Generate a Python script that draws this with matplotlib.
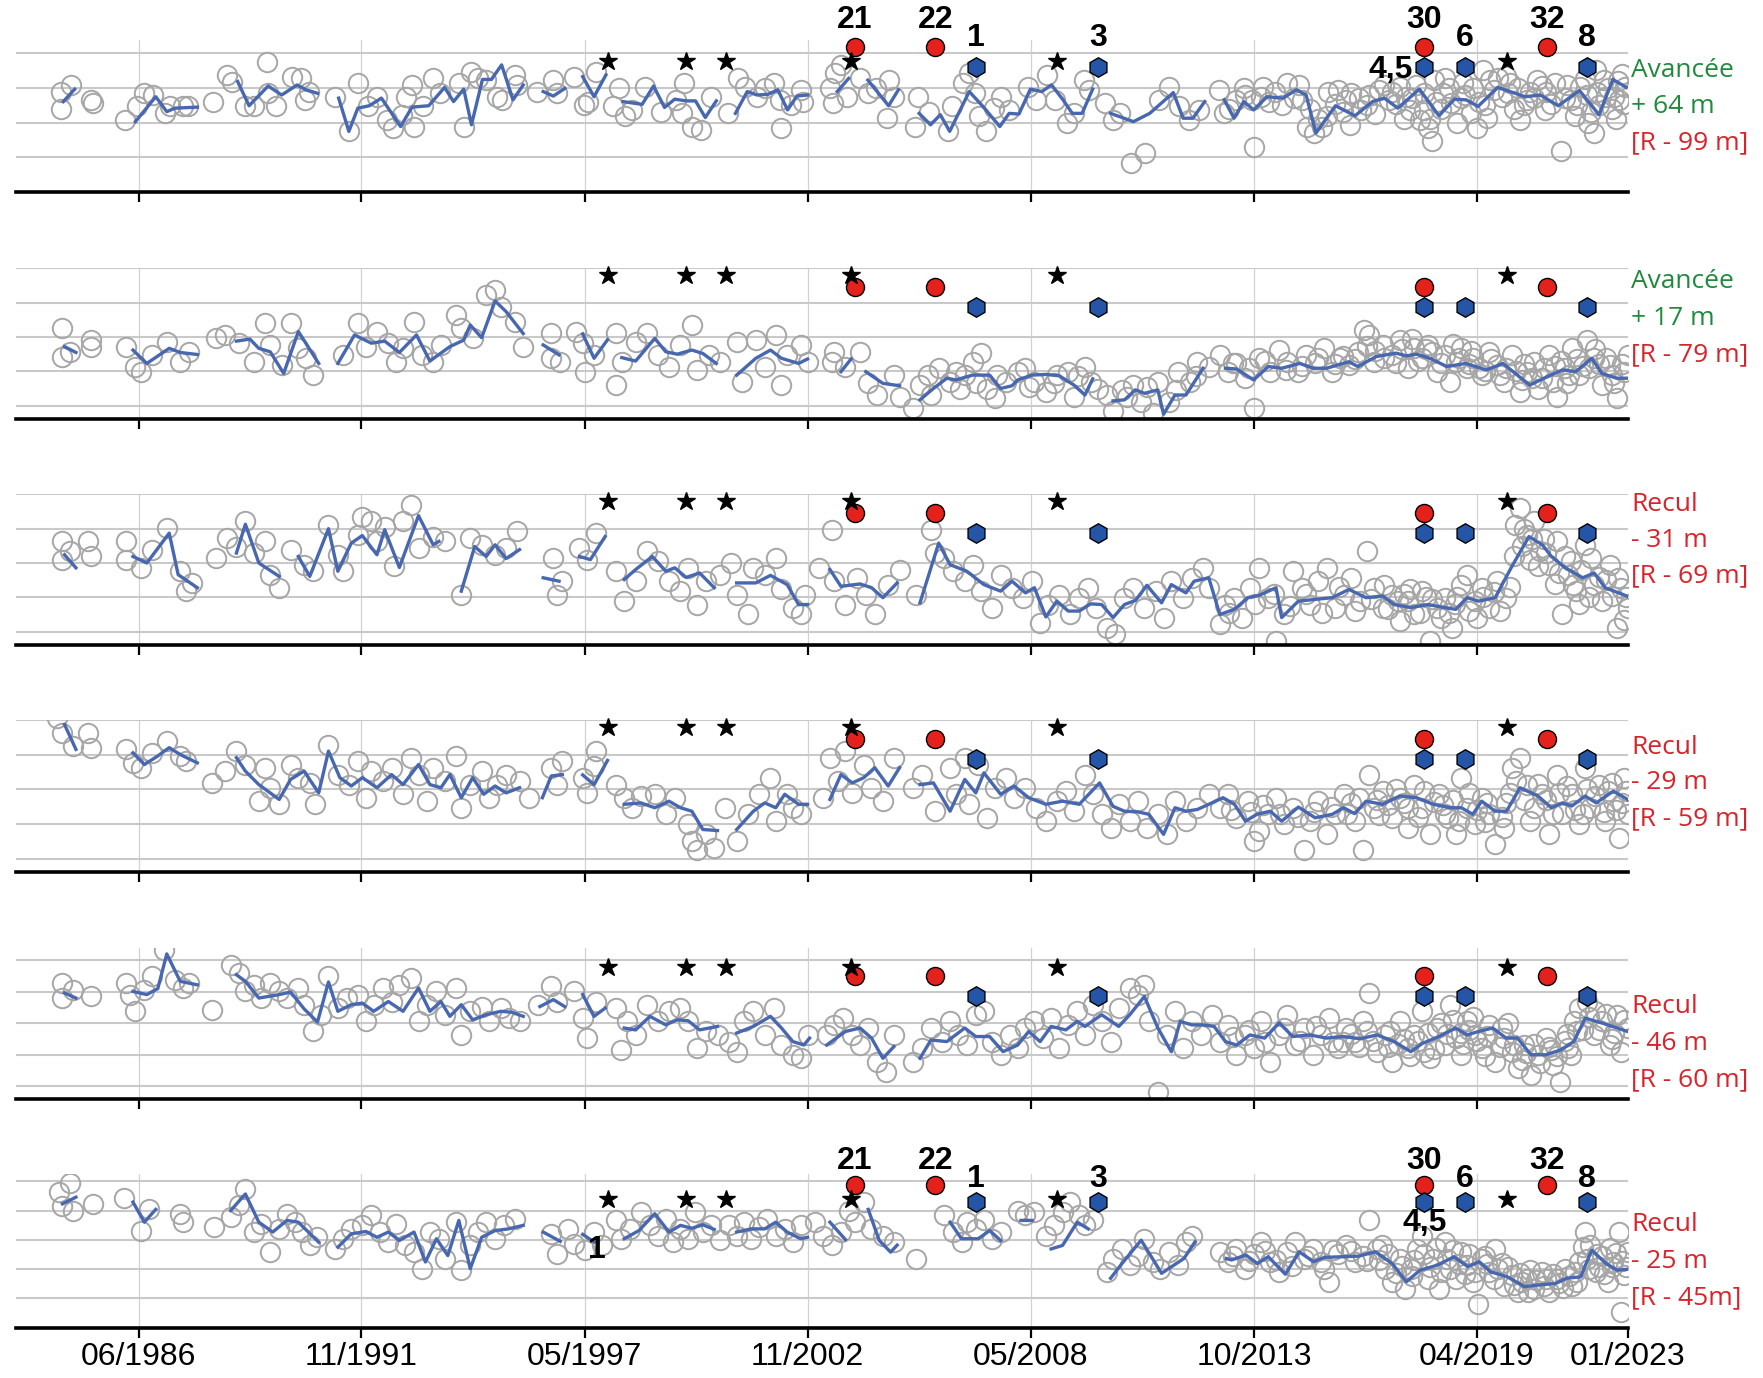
import numpy as np
import matplotlib.pyplot as plt

GAP = (np.nan, np.nan)

tick_years = [1986.44, 1991.91, 1997.39, 2002.86, 2008.34, 2013.82, 2019.29, 2023.0]
tick_labels = ['06/1986', '11/1991', '05/1997', '11/2002', '05/2008', '10/2013', '04/2019', '01/2023']

star_years = [1997.97, 1999.88, 2000.87, 2003.93, 2008.98, 2020.04]
red_years = [2004.02, 2006.00, 2018.00, 2021.01]
red_names = ['21', '22', '30', '32']
hex_years = [2007.00, 2010.00, 2018.00, 2019.00, 2022.00]
hex_names = ['1', '3', '4,5', '6', '8']

side_top = ['Avancée', 'Avancée', 'Recul', 'Recul', 'Recul', 'Recul']
side_mid = ['+ 64 m', '+ 17 m', '- 31 m', '- 29 m', '- 46 m', '- 25 m']
side_bot = ['[R - 99 m]', '[R - 79 m]', '[R - 69 m]', '[R - 59 m]', '[R - 60 m]', '[R - 45m]']

# mean shoreline position (m), gaps where no data
line1 = [
    (1984.59, 26.1), (1984.87, 29.7), GAP,
    (1986.36, 20.3), (1986.86, 27.5), (1987.13, 23.2), (1987.33, 24.2), (1987.88, 24.5), GAP,
    (1988.87, 31.9), (1989.15, 24.9), (1989.62, 30.6), (1989.95, 28), (1990.33, 30.9), (1990.55, 29.5), (1990.83, 28.5), GAP,
    (1991.35, 27.1), (1991.60, 17.5), (1991.82, 24.2), (1992.10, 24.9), (1992.40, 27.1), (1992.87, 18.9), (1993.15, 24.5),
    (1993.56, 24.9), (1993.95, 30.2), (1994.17, 26.1), (1994.42, 29.7), (1994.61, 19.4), (1994.88, 32.5), (1995.10, 32.5),
    (1995.35, 36.7), (1995.63, 26.6), (1995.88, 30.9), GAP,
    (1996.37, 29), (1996.62, 27.7), (1996.90, 29.9), GAP,
    (1997.34, 33.3), (1997.62, 27.5), (1997.91, 33.8), GAP,
    (1998.33, 26.1), (1998.80, 25.3), (1999.08, 30.6), (1999.35, 24.4), (1999.60, 26.8), (1999.88, 26.3), (2000.11, 26.3),
    (2000.35, 21.5), (2000.62, 26.3), GAP,
    (2001.09, 22.7), (2001.38, 29), (2001.62, 28), (2001.89, 28.2), (2002.13, 29.5), (2002.37, 23.7), (2002.60, 27.7), (2002.86, 28), GAP,
    (2003.59, 29), (2003.87, 32.8), GAP,
    (2004.34, 32.3), (2004.85, 24.9), (2005.09, 29.5), GAP,
    (2005.60, 22.7), (2005.88, 19.4), (2006.12, 22.3), (2006.35, 17.5), (2006.83, 29), (2007.15, 24.9), (2007.58, 18.9),
    (2007.81, 22.7), (2008.05, 22.5), (2008.33, 29.7), (2008.61, 29), (2008.85, 30.9), (2009.12, 26.8), (2009.36, 22.7),
    (2009.60, 22.7), (2009.86, 29.7), GAP,
    (2010.30, 22.7), (2010.86, 20.3), (2011.26, 22.7), (2011.84, 28.7), (2012.08, 21.3), (2012.32, 21.3), (2012.61, 26.1), GAP,
    (2013.09, 26.6), (2013.33, 21.3), (2013.57, 26.1), (2013.81, 23.7), (2014.14, 27.5), (2014.53, 27.1), (2014.86, 29.5),
    (2015.10, 28), (2015.34, 17), (2015.82, 24.9), (2016.30, 22), (2016.73, 26.1), (2017.02, 27.1), (2017.35, 24.2),
    (2017.88, 29.7), (2018.36, 22), (2018.74, 26.8), (2019.03, 26.6), (2019.32, 24.7), (2019.80, 30.2), (2020.23, 28.5),
    (2020.47, 27.5), (2020.85, 28), (2021.29, 24.9), (2021.81, 29.3), (2022.29, 22.3), (2022.63, 32.5), (2022.96, 30.2),
]

pts1 = [
    (1984.54, 29), (1984.54, 23.9), (1984.79, 30.9), (1985.26, 26.6), (1985.31, 25.6),
    (1986.11, 20.8), (1986.39, 24.7), (1986.58, 28.5), (1986.80, 28), (1987.08, 22.7), (1987.22, 24.7), (1987.52, 24.7),
    (1987.66, 24.7), (1988.26, 26.1),
    (1988.60, 33.8), (1988.73, 31.9), (1989.06, 24.7), (1989.28, 24.7), (1989.59, 37.6), (1989.62, 28.5), (1989.81, 24.7),
    (1990.20, 33.3), (1990.42, 32.8), (1990.53, 26.6), (1990.61, 29),
    (1991.27, 27.4), (1991.60, 17.5), (1991.82, 31.4), (1992.07, 24.7), (1992.29, 27.5), (1992.54, 20.8), (1992.68, 18.4),
    (1992.90, 22.3), (1993.01, 27.5), (1993.15, 30.9), (1993.20, 18.9), (1993.42, 24.7), (1993.67, 32.8), (1993.84, 28.5),
    (1994.30, 31.4), (1994.42, 18.9), (1994.61, 34.7), (1994.77, 32.8), (1994.97, 32.3), (1995.24, 27.5), (1995.35, 26.6),
    (1995.68, 33.8), (1995.74, 30.9),
    (1996.21, 29), (1996.62, 32.3), (1996.70, 28.5), (1997.12, 33.1), (1997.37, 25.1), (1997.48, 26.1), (1997.67, 34.7),
    (1998.09, 24.7), (1998.22, 29.9), (1998.37, 21.8), (1998.55, 23.7), (1998.88, 30.4), (1999.27, 23.2), (1999.64, 26.6),
    (1999.78, 22.7), (1999.83, 31.4), (2000.02, 18.9), (2000.25, 17.9), (2000.48, 27.5),
    (2000.91, 22.7), (2001.15, 32.8), (2001.33, 30.4), (2001.62, 27.5), (2001.81, 29.9), (2002.03, 31.4), (2002.18, 26.6),
    (2002.22, 18.4), (2002.46, 25.1), (2002.69, 29.5), (2002.75, 26.1),
    (2003.40, 29.9), (2003.49, 25.6), (2003.54, 34.3), (2003.68, 36.7), (2003.82, 27.5), (2004.15, 32.8), (2004.34, 28.5),
    (2004.53, 29.9), (2004.81, 21.3), (2004.85, 32.3), (2004.99, 27.5),
    (2005.51, 18.9), (2005.56, 27.5), (2005.84, 23.2), (2006.30, 17.5), (2006.40, 24.7), (2006.68, 31.4), (2006.83, 34.3),
    (2006.97, 28.5), (2007.06, 21.8), (2007.25, 17.5), (2007.44, 24.2), (2007.62, 27.5), (2007.81, 23.7), (2008.28, 30.4),
    (2008.47, 26.6), (2008.75, 33.8), (2008.94, 26.6), (2009.22, 19.9), (2009.41, 22.7), (2009.64, 32.3), (2009.78, 29.5),
    (2010.16, 25.6), (2010.35, 20.8), (2010.53, 22.7), (2010.81, 8.3), (2011.14, 11.2), (2011.50, 26.6), (2011.74, 30.4),
    (2011.99, 24.7), (2012.23, 20.8), (2012.47, 23.7),
    (2012.95, 29.5), (2013.09, 22.7), (2013.38, 26.6), (2013.57, 29.9), (2013.77, 26.6), (2013.81, 13.1), (2014.05, 30.4),
    (2014.20, 26), (2014.34, 29), (2014.63, 31.4), (2014.80, 27), (2014.92, 30.9), (2015.11, 18.9), (2015.20, 24),
    (2015.30, 17), (2015.49, 18.9), (2015.60, 22), (2015.64, 29), (2015.88, 29.5), (2016.07, 26.6), (2016.17, 19.4),
    (2016.20, 28.5), (2016.45, 23.7), (2016.60, 25), (2016.65, 28), (2016.89, 29.5), (2017.13, 26.6), (2017.20, 29),
    (2017.41, 30.4), (2017.50, 21), (2017.56, 27.5), (2017.65, 23.7), (2017.80, 31), (2017.89, 20.8), (2017.99, 23.7),
    (2018.09, 18.4), (2018.18, 14.6), (2018.23, 32.3), (2018.30, 26), (2018.47, 28.5), (2018.50, 33), (2018.66, 25.6),
    (2018.80, 20), (2018.95, 31.4), (2019.00, 28), (2019.14, 22.7), (2019.29, 18.4), (2019.43, 35.2), (2019.50, 25),
    (2019.62, 32.3), (2019.70, 29.5), (2019.91, 27.5), (2020.00, 33.5), (2020.10, 31.4), (2020.20, 24), (2020.34, 20.8),
    (2020.53, 26.6), (2020.60, 29), (2020.77, 32.3), (2020.90, 30.5), (2020.97, 23.7), (2021.10, 25.5), (2021.35, 11.7),
    (2021.50, 31), (2021.59, 26.6), (2021.70, 22), (2021.83, 30.4), (2022.00, 28), (2022.02, 19.9), (2022.17, 17),
    (2022.21, 35.2), (2022.30, 25), (2022.41, 32.3), (2022.50, 30), (2022.65, 27.5), (2022.70, 21), (2022.79, 26.6),
    (2022.85, 34), (2022.93, 30.4),
    (2013.20, 24), (2013.60, 28), (2014.00, 27.5), (2014.50, 25), (2015.00, 26.5), (2015.40, 21), (2015.80, 25.5),
    (2016.00, 23), (2016.40, 27), (2016.80, 22.5), (2017.00, 31), (2017.30, 25.5), (2017.70, 27), (2018.00, 28.5),
    (2018.15, 21), (2018.40, 24), (2018.60, 30), (2018.90, 27), (2019.20, 30), (2019.35, 26), (2019.55, 21.5),
    (2019.80, 33), (2020.05, 28.5), (2020.30, 30), (2020.45, 25), (2020.70, 27), (2021.00, 29), (2021.20, 31.5),
    (2021.45, 27), (2021.75, 25), (2021.95, 32.5), (2022.10, 23), (2022.25, 29), (2022.45, 27.5), (2022.60, 24),
    (2022.75, 32), (2022.90, 25.5),
]

line2 = [
    (1984.62, 17.2), (1984.90, 15.5), GAP,
    (1986.30, 16.2), (1986.64, 12.3), (1987.19, 16.7), (1987.46, 15.5), (1987.88, 14.9), GAP,
    (1988.84, 18.8), (1989.17, 19.4), (1989.39, 16.7), (1989.67, 15.7), (1990.00, 9.4), (1990.36, 21.6), (1990.86, 12.3), GAP,
    (1991.33, 12.3), (1991.74, 20.6), (1992.15, 18.2), (1992.48, 18.8), (1992.84, 15.5), (1993.26, 20.6), (1993.59, 13),
    (1994.08, 17.2), (1994.42, 19.1), (1994.58, 23.5), (1994.86, 19.8), (1995.19, 30.5), (1995.46, 27.4), (1995.88, 21), GAP,
    (1996.37, 17.7), (1996.76, 14.8), GAP,
    (1997.34, 20.9), (1997.62, 13.8), (1997.95, 19.2), GAP,
    (1998.30, 14), (1998.64, 13), (1999.11, 19.6), (1999.38, 15.7), (1999.66, 15), (2000.02, 16.2), (2000.29, 15.2), (2000.62, 12.3), GAP,
    (2001.12, 8.9), (2001.59, 13.8), (2001.95, 16.2), (2002.22, 13.8), (2002.64, 12.3), (2002.86, 13.6), GAP,
    (2003.68, 9.9), (2003.93, 13.6), GAP,
    (2004.29, 9.9), (2004.71, 6.5), (2005.12, 5.8), GAP,
    (2005.62, 1.7), (2005.95, 5), (2006.28, 8), (2006.50, 7.5), (2006.91, 8.9), (2007.33, 8.9), (2007.60, 5), (2007.88, 5.8),
    (2008.02, 7.5), (2008.37, 8.9), (2008.71, 9.1), (2009.04, 8.7), (2009.40, 6), (2009.67, 3.1), (2009.86, 7.8), GAP,
    (2010.36, 1.4), (2010.64, 1.7), (2010.91, 4.6), (2011.13, 3.6), (2011.46, 4.6), (2011.60, -2.5), (2011.88, 3.1),
    (2012.15, 3.1), (2012.57, 10.9), GAP,
    (2013.12, 10.9), (2013.39, 10.7), (2013.81, 7.5), (2014.17, 11.4), (2014.50, 10.9), (2014.94, 12.3), (2015.27, 10.9),
    (2015.60, 10.9), (2016.15, 12.8), (2016.37, 11.4), (2016.82, 14.3), (2017.31, 15.3), (2017.56, 14.5), (2017.81, 15),
    (2018.14, 13.8), (2018.55, 11.4), (2019.02, 12.3), (2019.52, 10.4), (2019.93, 12.3), (2020.59, 6), (2021.01, 8.4),
    (2021.39, 10.4), (2021.72, 9.9), (2022.11, 13.8), (2022.36, 9.4), (2022.72, 8), (2022.99, 8),
]

pts2 = [
    (1984.57, 22.5), (1984.57, 14.3), (1984.76, 15.7), (1985.26, 19.1), (1985.26, 17.2),
    (1986.14, 17.2), (1986.36, 11.4), (1986.50, 9.9), (1986.77, 14.8), (1987.13, 18.6), (1987.46, 12.8), (1987.68, 15.7),
    (1988.35, 19.6), (1988.57, 20.6), (1988.90, 18.2), (1989.26, 12.8), (1989.53, 24), (1989.67, 17.7), (1989.95, 11.8),
    (1990.17, 24), (1990.36, 16.7), (1990.55, 13.8), (1990.72, 8.9),
    (1991.46, 14.8), (1991.82, 24), (1992.02, 17.2), (1992.29, 21.6), (1992.57, 18.2), (1992.76, 12.8), (1992.93, 16.7),
    (1993.20, 24.5), (1993.39, 14.8), (1993.67, 12.8), (1993.86, 17.7), (1994.22, 26.4), (1994.36, 22.5), (1994.64, 19.8),
    (1994.97, 32.2), (1995.19, 33.7), (1995.33, 28.8), (1995.68, 24.5),
    (1995.88, 17.2), (1996.57, 21.1), (1996.57, 13.8), (1996.79, 12.8), (1997.17, 21.6), (1997.34, 18.2), (1997.39, 9.9),
    (1997.62, 14.8), (1998.17, 21.1), (1998.17, 6), (1998.30, 12.8), (1998.64, 18.6), (1998.91, 21.1), (1999.19, 14.8),
    (1999.46, 11.4), (1999.74, 17.7), (2000.02, 23.5), (2000.15, 10.4), (2000.43, 14.8), (2000.70, 12.8),
    (2001.12, 18.6), (2001.26, 7), (2001.59, 19.1), (2001.81, 11.4), (2002.08, 20.6), (2002.22, 6), (2002.36, 14.8),
    (2002.69, 17.7), (2002.86, 12.8),
    (2003.46, 12.8), (2003.52, 15.7), (2003.79, 11.4), (2004.15, 15.7), (2004.35, 6.5), (2004.57, 3.1), (2004.98, 8.9),
    (2005.12, 2.6), (2005.45, -0.8), (2005.62, 6), (2005.81, 8.9), (2006.08, 10.9), (2006.36, 7), (2006.50, 9.9),
    (2006.72, 8.9), (2006.91, 12.8), (2007.11, 15.2), (2007.27, 5), (2007.46, 2.1), (2007.74, 7), (2008.02, 9.9),
    (2008.21, 10.9), (2008.43, 7), (2008.71, 4.1), (2008.98, 8.9), (2009.26, 9.9), (2009.40, 2.6), (2009.67, 11.4),
    (2009.81, 7),
    (2010.22, 3.1), (2010.36, -1.7), (2010.58, 4.6), (2010.86, 6), (2011.05, 1.2), (2011.33, -2.2), (2011.46, 7),
    (2011.74, 1.2), (2011.96, 9.9), (2012.24, 7), (2012.43, 12.8), (2012.71, 11.4),
    (2012.98, 14.8), (2013.17, 9.9), (2013.39, 12.3), (2013.61, 8), (2013.81, -0.8), (2013.95, 13.8), (2014.22, 9.9),
    (2014.44, 16.2), (2014.64, 12.8), (2014.91, 9.9), (2015.10, 14.8), (2015.32, 12.3), (2015.54, 16.7), (2015.74, 9.9),
    (2015.93, 13.8), (2016.00, 14.5), (2016.15, 11.8), (2016.37, 15.7), (2016.51, 22), (2016.65, 20.6), (2016.76, 12.8),
    (2016.80, 16), (2016.98, 17.7), (2017.20, 14.8), (2017.30, 12.5), (2017.40, 19.1), (2017.59, 10.9), (2017.70, 19.5),
    (2017.76, 16.7), (2017.95, 13.8), (2018.09, 17.7), (2018.20, 15.5), (2018.31, 9.9), (2018.50, 14.8), (2018.64, 7),
    (2018.70, 18), (2018.77, 12.8), (2018.91, 16.7), (2019.05, 10.9), (2019.10, 12), (2019.19, 13.8), (2019.41, 8.9),
    (2019.50, 10), (2019.60, 15.7), (2019.79, 11.8), (2019.96, 7), (2020.00, 11), (2020.15, 14.8), (2020.35, 4.1),
    (2020.40, 7.5), (2020.51, 9.9), (2020.70, 12.8), (2020.80, 5), (2020.90, 8), (2021.06, 14.8), (2021.20, 11.5),
    (2021.26, 2.6), (2021.45, 10.9), (2021.50, 6.5), (2021.62, 16.7), (2021.81, 8.9), (2021.90, 11.5), (2022.00, 19.1),
    (2022.17, 13.8), (2022.20, 16.5), (2022.36, 6), (2022.55, 11.8), (2022.60, 9), (2022.72, 2.1), (2022.91, 9.9),
    (2022.99, 14.8),
    (2005.90, 3), (2006.60, 5), (2007.00, 6.5), (2007.50, 9), (2008.30, 5.5), (2008.90, 6.5), (2009.50, 8.5),
    (2010.00, 5), (2010.70, 2.5), (2011.20, 5.5), (2011.90, 4.5), (2012.40, 8.5),
    (2013.30, 12.5), (2013.70, 11), (2014.10, 13), (2014.60, 10.5), (2015.00, 11.5), (2015.40, 14), (2015.80, 12),
    (2016.30, 13.5), (2016.60, 17.5), (2017.00, 14), (2017.45, 16.5), (2017.85, 13), (2018.05, 16.5), (2018.40, 12.5),
    (2018.85, 14), (2019.15, 16), (2019.35, 11), (2019.65, 13.5), (2019.85, 9), (2020.25, 10), (2020.45, 12),
    (2020.65, 8), (2020.95, 11), (2021.15, 7), (2021.35, 13), (2021.55, 9), (2021.75, 13.5), (2022.05, 11),
    (2022.30, 12), (2022.45, 14), (2022.65, 6.5), (2022.85, 12),
]

line3 = [
    (1984.62, 22.4), (1984.90, 18.6), GAP,
    (1986.30, 21.9), (1986.64, 20), (1987.19, 28.7), (1987.41, 16.6), (1987.88, 12.8), GAP,
    (1988.84, 22.9), (1989.06, 31.3), (1989.39, 20), (1989.89, 16.1), GAP,
    (1990.36, 21.9), (1990.64, 16.1), (1991.10, 30), (1991.33, 17.6), (1991.66, 25.8), (1991.93, 28), (1992.29, 22.4),
    (1992.48, 29.7), (1992.84, 18.7), (1993.31, 33.8), (1993.67, 25.3), (1993.81, 26.3), GAP,
    (1994.36, 11.8), (1994.69, 24.8), (1994.97, 21.9), (1995.19, 25.3), (1995.46, 21.3), (1995.79, 23.9), GAP,
    (1996.37, 15.7), (1996.76, 14.7), GAP,
    (1997.26, 21.9), (1997.53, 21), (1997.89, 27.7), GAP,
    (1998.36, 15.2), (1998.64, 18.1), (1999.05, 21.9), (1999.38, 17.6), (1999.60, 18.6), (1999.88, 15.8), (2000.21, 17.1), (2000.57, 12.8), GAP,
    (2001.12, 14.2), (2001.59, 14.2), (2001.95, 16.4), (2002.36, 13.7), (2002.64, 7.9), (2002.86, 7.9), GAP,
    (2003.41, 18.1), (2003.68, 13.2), (2004.15, 13.9), (2004.43, 12.8), (2004.71, 9.9), (2005.06, 14.2), GAP,
    (2005.62, 8.4), (2006.08, 25.8), (2006.36, 19.5), (2006.77, 17.6), (2007.19, 13.7), (2007.60, 11.8), (2007.88, 14.7),
    (2008.21, 11.3), (2008.43, 12.8), (2008.71, 4.3), (2008.98, 8.9), (2009.26, 6), (2009.53, 6), (2009.81, 8.1),
    (2010.08, 7.9), (2010.36, 4.1), (2010.64, 7.9), (2010.91, 9.1), (2011.19, 13.5), (2011.55, 8.4), (2011.79, 13.7),
    (2012.15, 11.3), (2012.35, 14.7), (2012.71, 15.7), (2012.98, 5), (2013.34, 6.5), (2013.67, 9.9), (2013.95, 10.6),
    (2014.36, 12.8), (2014.50, 4.1), (2014.91, 8.9), (2015.32, 9.4), (2015.74, 9.9), (2016.15, 12.3), (2016.57, 9.9),
    (2016.98, 10.4), (2017.26, 7.9), (2017.67, 7), (2018.09, 7.9), (2018.50, 7), (2018.77, 6.5), (2019.05, 9.9),
    (2019.33, 8.9), (2019.74, 9.9), (2020.15, 19), (2020.57, 27.7), (2020.90, 25.3), (2021.12, 21.9), (2021.45, 18.7),
    (2021.89, 15.7), (2022.17, 17.1), (2022.44, 12.8), (2022.99, 10.3),
]

pts3 = [
    (1984.57, 26.3), (1984.57, 21), (1984.76, 23.4), (1985.20, 26.3), (1985.26, 21.9),
    (1986.14, 26.3), (1986.14, 21), (1986.50, 18.6), (1986.77, 23.9), (1987.13, 30.1), (1987.46, 17.6), (1987.60, 11.8),
    (1987.74, 14.2),
    (1988.35, 21.4), (1988.62, 27.2), (1988.84, 24.8), (1989.06, 32.1), (1989.26, 22.9), (1989.53, 26.5), (1989.67, 16.6),
    (1989.89, 12.8), (1990.17, 23.9), (1990.50, 19.5), (1990.72, 17.6), (1991.10, 31.1), (1991.33, 22.4), (1991.46, 17.6),
    (1991.82, 28.2), (1991.93, 33.5), (1992.15, 32.1), (1992.29, 26.3), (1992.48, 30.6), (1992.70, 19), (1992.93, 32.1),
    (1993.12, 36.9), (1993.31, 24.3), (1993.67, 27.7), (1993.95, 26.3),
    (1994.36, 10.8), (1994.58, 27.2), (1994.86, 25.3), (1995.19, 22.4), (1995.46, 24.3), (1995.74, 29.2), (1996.62, 21.4),
    (1996.70, 10.8), (1996.84, 14.7),
    (1997.26, 24.3), (1997.45, 21), (1997.67, 28.7), (1998.17, 17.6), (1998.36, 8.9), (1998.64, 14.7), (1998.91, 23.4),
    (1999.19, 20.5), (1999.46, 14.7), (1999.74, 11.8), (1999.93, 18.6), (2000.15, 7.9), (2000.37, 14.7), (2000.70, 16.6),
    (2000.98, 20), (2001.12, 10.8), (2001.39, 5), (2001.53, 18.6), (2001.81, 16.6), (2002.08, 21.4), (2002.22, 12.3),
    (2002.50, 7), (2002.69, 5), (2002.80, 10.8),
    (2003.13, 18.6), (2003.46, 29.7), (2003.52, 14.7), (2003.79, 7.9), (2004.07, 15.7), (2004.29, 10.8), (2004.51, 5),
    (2004.84, 13.7), (2005.12, 18.1),
    (2005.53, 10.8), (2005.89, 29.7), (2006.00, 22.9), (2006.22, 21.4), (2006.44, 17.6), (2006.72, 14.7), (2006.91, 19.5),
    (2007.11, 11.8), (2007.38, 7), (2007.60, 16.6), (2007.88, 12.8), (2008.15, 9.9), (2008.37, 14.7), (2008.57, 2.6),
    (2008.76, 7.9), (2009.04, 10.8), (2009.31, 5), (2009.53, 9.9), (2009.75, 12.8), (2009.95, 7), (2010.22, 1.2),
    (2010.41, -0.8), (2010.64, 9.9), (2010.86, 12.8), (2011.13, 7), (2011.41, 11.8), (2011.60, 4.1), (2011.79, 14.7),
    (2012.07, 9.9), (2012.29, 15.7), (2012.57, 18.6), (2012.71, 12.8),
    (2012.98, 2.1), (2013.12, 7.9), (2013.34, 9.9), (2013.53, 4.1), (2013.73, 12.8), (2013.95, 18.6), (2014.17, 9.9),
    (2014.36, -2.7), (2014.55, 5), (2014.77, 17.6), (2014.99, 12.8), (2015.19, 7.9), (2015.38, 14.7), (2015.60, 18.6),
    (2015.82, 7), (2016.02, 10.8), (2016.21, 15.7), (2016.43, 8.9), (2016.59, 23.4), (2016.76, 12.8), (2016.98, 7),
    (2017.00, 13.5), (2017.20, 10.8), (2017.40, 3.1), (2017.50, 11), (2017.59, 8.9), (2017.76, 5), (2017.90, 5.5),
    (2017.95, 11.8), (2018.14, -2.7), (2018.20, 9.5), (2018.31, 7), (2018.50, 9.9), (2018.60, 5.5), (2018.69, 1.2),
    (2018.80, 10), (2018.91, 13.7), (2019.05, 16.6), (2019.24, 8.9), (2019.30, 4), (2019.41, 12.8), (2019.60, 7),
    (2019.70, 11.5), (2019.79, 14.7), (2020.01, 9.9), (2020.23, 31.1), (2020.34, 35.9), (2020.40, 25), (2020.51, 28.2),
    (2020.60, 21), (2020.70, 32.1), (2020.84, 23.4), (2020.95, 27), (2021.06, 19.5), (2021.20, 14), (2021.26, 26.3),
    (2021.39, 5), (2021.53, 16.6), (2021.60, 20.5), (2021.73, 11.8), (2021.80, 8), (2021.95, 25.3), (2022.10, 21.5),
    (2022.17, 13.7), (2022.36, 8.9), (2022.45, 15), (2022.55, 19.5), (2022.72, 1.2), (2022.83, 12.8), (2022.90, 3.5),
    (2022.99, 7),
    (2013.20, 5.5), (2013.85, 8), (2014.30, 11), (2014.70, 7.5), (2015.10, 11), (2015.50, 5.5), (2015.90, 13),
    (2016.30, 6), (2016.70, 9.5), (2017.10, 6.5), (2017.35, 9), (2017.65, 12.5), (2018.05, 10), (2018.40, 4),
    (2018.75, 8), (2019.10, 6), (2019.45, 10), (2019.85, 6), (2020.10, 13), (2020.20, 22), (2020.45, 30),
    (2020.65, 27), (2020.80, 19), (2021.00, 23), (2021.30, 17), (2021.45, 22), (2021.65, 13.5), (2021.85, 18),
    (2022.05, 10), (2022.30, 16), (2022.60, 10.5), (2022.75, 15.5), (2022.95, 10),
]

line4 = [
    (1984.62, 38.8), (1984.90, 31.6), GAP,
    (1986.30, 30.6), (1986.58, 27.2), (1986.91, 29.7), (1987.19, 32.1), (1987.46, 30.1), (1987.88, 27.7), GAP,
    (1988.84, 29.2), (1989.06, 25.3), (1989.39, 21.4), (1989.89, 17.1), (1990.17, 22.9), (1990.50, 25.3), (1990.86, 19),
    (1991.10, 31.1), (1991.38, 23.4), (1991.66, 21), (1991.93, 23.4), (1992.29, 20.5), (1992.65, 24.3), (1992.93, 21.4),
    (1993.31, 27.2), (1993.59, 21.4), (1993.86, 20.5), (1994.08, 24.3), (1994.36, 17.6), (1994.64, 23.4), (1994.91, 18.6),
    (1995.19, 21), (1995.46, 19), (1995.79, 20.5), GAP,
    (1996.35, 17.6), (1996.57, 23.9), (1996.84, 24.3), GAP,
    (1997.34, 24.2), (1997.62, 21.4), (1997.95, 28.4), GAP,
    (1998.36, 15.7), (1998.77, 16.1), (1999.11, 14.7), (1999.46, 16.6), (1999.74, 14.7), (2000.02, 13.7), (2000.29, 8.4), (2000.65, 8.1), GAP,
    (2001.12, 8.4), (2001.53, 13.7), (2001.81, 16.1), (2002.08, 14.7), (2002.30, 18.6), (2002.64, 15.7), (2002.86, 15.7), GAP,
    (2003.41, 17.1), (2003.68, 24.3), (2003.96, 21.9), (2004.24, 23.4), (2004.51, 26.3), (2004.84, 21), (2005.12, 26.3), GAP,
    (2005.62, 21.4), (2005.95, 21.9), (2006.36, 13.7), (2006.72, 22.9), (2006.99, 19), (2007.19, 24.8), (2007.60, 18.6),
    (2007.93, 21), (2008.29, 17.6), (2008.71, 15.7), (2009.12, 16.6), (2009.53, 15.7), (2010.03, 21.9), (2010.36, 15.1),
    (2010.64, 13.7), (2010.97, 13.5), (2011.24, 12.8), (2011.60, 7), (2011.88, 14.7), (2012.15, 13.7), (2012.43, 14.2),
    (2012.71, 15.7), (2013.06, 17.6), (2013.34, 15.7), (2013.61, 10.8), (2013.89, 12.8), (2014.22, 13.7), (2014.50, 10.8),
    (2014.91, 14.9), (2015.32, 11.8), (2015.74, 12.8), (2016.02, 14.7), (2016.29, 13), (2016.57, 16.6), (2016.98, 15.7),
    (2017.40, 18.1), (2017.81, 17.6), (2018.22, 15.7), (2018.64, 14.7), (2018.91, 14.7), (2019.19, 12.8), (2019.41, 16.6),
    (2019.74, 13.7), (2020.02, 13.7), (2020.35, 20.5), (2020.79, 18.1), (2021.12, 14.7), (2021.39, 16.1), (2021.62, 15.2),
    (2021.95, 18.1), (2022.22, 16.1), (2022.64, 19.5), (2022.99, 17.1),
]

pts4 = [
    (1984.43, 40.8), (1984.57, 36.4), (1984.84, 32.6), (1985.20, 36.4), (1985.26, 32.1),
    (1986.14, 31.6), (1986.30, 27.7), (1986.50, 26.3), (1986.77, 30.6), (1987.13, 34), (1987.46, 29.7), (1987.60, 28.2),
    (1988.24, 21.9), (1988.57, 25.3), (1988.84, 31.1), (1989.06, 27.2), (1989.39, 16.6), (1989.53, 26.3), (1989.67, 20.5),
    (1989.89, 15.7), (1990.17, 27.2), (1990.36, 23.4), (1990.64, 21.9), (1990.77, 15.7), (1991.10, 33), (1991.33, 24.3),
    (1991.60, 21.4), (1991.82, 28.2), (1992.02, 17.6), (1992.15, 25.3), (1992.43, 22.4), (1992.65, 26.3), (1992.93, 18.6),
    (1993.12, 29.2), (1993.31, 24.3), (1993.53, 16.6), (1993.67, 26.3), (1993.95, 22.4), (1994.22, 29.7), (1994.36, 14.7),
    (1994.58, 21.4), (1994.86, 25.3), (1995.05, 17.6), (1995.24, 21.4), (1995.46, 24.3), (1995.79, 22.4), (1996.02, 17.6),
    (1996.57, 26.3), (1996.70, 21.4), (1996.84, 28.2), (1997.34, 23.4), (1997.45, 19), (1997.62, 26.8), (1997.67, 31.1),
    (1998.17, 21.4), (1998.36, 17.6), (1998.55, 14.7), (1998.77, 18.1), (1999.11, 18.6), (1999.38, 12.8), (1999.60, 17.6),
    (1999.93, 9.9), (2000.02, 5), (2000.15, 2.6), (2000.37, 7), (2000.57, 3.1), (2000.84, 14.7), (2001.12, 5),
    (2001.39, 12.8), (2001.67, 18.6), (2001.95, 23.4), (2002.08, 10.8), (2002.36, 18.6), (2002.50, 14.7), (2002.69, 12.8),
    (2003.24, 17.6), (2003.41, 29.2), (2003.60, 22.4), (2003.79, 31.1), (2003.96, 19), (2004.24, 27.2), (2004.43, 20.5),
    (2004.71, 16.6), (2004.98, 29.2),
    (2005.45, 20.5), (2005.67, 24.3), (2006.00, 13.7), (2006.36, 26.3), (2006.50, 18.6), (2006.72, 29.2), (2006.83, 15.7),
    (2007.05, 27.2), (2007.27, 11.8), (2007.46, 20.5), (2007.74, 23.4), (2007.93, 17.6), (2008.21, 20.5), (2008.48, 14.7),
    (2008.71, 10.8), (2008.98, 16.6), (2009.20, 19.5), (2009.40, 13.7), (2009.67, 24.3), (2009.86, 18.6), (2010.08, 12.8),
    (2010.30, 8.9), (2010.50, 15.7), (2010.77, 10.8), (2010.97, 16.6), (2011.19, 8.9), (2011.46, 12.8), (2011.68, 7),
    (2011.88, 16.6), (2012.15, 10.8), (2012.43, 14.7), (2012.71, 18.6), (2012.98, 14.7), (2013.17, 18.6), (2013.39, 11.8),
    (2013.67, 16.6), (2013.81, 5), (2013.95, 7.9), (2014.17, 12.8), (2014.36, 17.6), (2014.55, 9.9), (2014.77, 14.7),
    (2015.05, 2.6), (2015.19, 10.8), (2015.38, 16.6), (2015.60, 7), (2015.82, 12.8), (2016.02, 18.6), (2016.20, 16),
    (2016.29, 10.8), (2016.49, 2.6), (2016.65, 24.3), (2016.76, 14.7), (2016.90, 12.5), (2016.98, 19.5), (2017.20, 11.8),
    (2017.40, 17.6), (2017.59, 8.9), (2017.60, 14.5), (2017.76, 21.4), (2017.95, 14.7), (2018.00, 19.5), (2018.14, 7),
    (2018.36, 18.6), (2018.45, 15.5), (2018.58, 11.8), (2018.77, 7), (2018.91, 23.4), (2019.05, 14.7), (2019.10, 19),
    (2019.24, 9.9), (2019.41, 17.6), (2019.50, 10.5), (2019.60, 12.8), (2019.74, 4.1), (2019.96, 8.9), (2020.00, 16),
    (2020.15, 26.3), (2020.35, 29.2), (2020.51, 21.4), (2020.60, 11), (2020.70, 14.7), (2020.90, 18.6), (2021.00, 17),
    (2021.06, 7), (2021.26, 24.3), (2021.39, 12.8), (2021.50, 21), (2021.62, 18.6), (2021.81, 9.9), (2021.90, 13),
    (2021.95, 26.3), (2022.08, 14.7), (2022.28, 21.4), (2022.44, 10.8), (2022.50, 19.5), (2022.64, 16.6), (2022.77, 6),
    (2022.85, 16), (2022.91, 23.4), (2022.99, 12.8),
    (2013.25, 14), (2013.75, 13.5), (2014.05, 15.5), (2014.45, 13), (2014.90, 12), (2015.30, 13.5), (2015.70, 15),
    (2016.10, 13), (2016.40, 17.5), (2016.85, 17), (2017.10, 15.5), (2017.30, 20), (2017.50, 16), (2017.85, 12),
    (2018.25, 16.5), (2018.50, 13), (2018.70, 17), (2018.85, 11), (2019.30, 14), (2019.55, 16), (2019.90, 12),
    (2020.10, 19), (2020.25, 22.5), (2020.45, 17), (2020.80, 21.5), (2021.15, 13), (2021.30, 19), (2021.70, 14),
    (2022.00, 20), (2022.20, 18), (2022.40, 13.5), (2022.60, 22), (2022.70, 14), (2022.95, 19.5),
]

line5 = [
    (1984.62, 29.6), (1984.90, 28), GAP,
    (1986.30, 30.1), (1986.64, 29.1), (1986.91, 31), (1987.13, 42), (1987.46, 33.3), (1987.88, 32.2), GAP,
    (1988.84, 35.4), (1989.06, 33.3), (1989.39, 28), (1989.89, 29.1), (1990.17, 29.9), (1990.50, 24.6), (1990.83, 20.4),
    (1991.10, 33.1), (1991.33, 23.8), (1991.66, 25.9), (1991.93, 26.4), (1992.21, 23.8), (1992.57, 26.9), (1992.93, 23.8),
    (1993.31, 31.2), (1993.59, 23.8), (1993.86, 26.9), (1994.08, 22.2), (1994.36, 25.9), (1994.64, 21.1), (1994.97, 22.7),
    (1995.33, 23.8), (1995.60, 23.5), (1995.88, 22.2), GAP,
    (1996.29, 25.3), (1996.62, 27.5), (1996.90, 25.3), GAP,
    (1997.34, 29.1), (1997.62, 22.2), (1997.89, 24.8), GAP,
    (1998.36, 18.5), (1998.64, 17.9), (1998.99, 22.2), (1999.38, 19.5), (1999.66, 21.1), (1999.93, 20.8), (2000.21, 17.9), (2000.65, 19), GAP,
    (2001.12, 16.9), (2001.53, 19), (2001.95, 22.2), (2002.22, 18.5), (2002.50, 14.2), (2002.77, 13.1), (2002.91, 15.3), GAP,
    (2003.33, 13.1), (2003.79, 17.4), (2004.15, 18.5), (2004.43, 15.3), (2004.71, 8.9), (2004.98, 12.6), GAP,
    (2005.62, 8.9), (2005.89, 14.7), (2006.28, 14.2), (2006.72, 18.5), (2006.99, 15.8), (2007.33, 15.8), (2007.66, 11),
    (2008.02, 13.1), (2008.29, 17.4), (2008.57, 14.2), (2008.84, 19), (2009.20, 17.9), (2009.48, 20.6), (2009.67, 19),
    (2010.08, 22.7), (2010.50, 19), (2010.77, 22.7), (2011.13, 28.5), (2011.46, 18.5), (2011.79, 11), (2012.01, 20.6),
    (2012.29, 19.5), (2012.57, 19.5), (2012.84, 19), (2013.12, 14.2), (2013.39, 13.1), (2013.72, 16.3), (2014.08, 15.3),
    (2014.44, 20.1), (2014.77, 15.8), (2015.19, 16.3), (2015.60, 15.3), (2016.02, 15.8), (2016.43, 15.1), (2016.84, 16.3),
    (2017.26, 14.2), (2017.67, 11), (2017.95, 13.6), (2018.36, 15.8), (2018.77, 18.5), (2019.05, 16.3), (2019.33, 17.4),
    (2019.68, 18.5), (2020.01, 15.3), (2020.29, 15.3), (2020.62, 10), (2020.98, 10), (2021.34, 11.5), (2021.67, 14.2),
    (2021.95, 21.6), (2022.36, 20.1), (2022.99, 17.4),
]

pts5 = [
    (1984.57, 32.8), (1984.57, 28), (1984.84, 30.6), (1985.26, 28.5),
    (1986.14, 32.8), (1986.22, 29.1), (1986.36, 23.8), (1986.58, 30.6), (1986.77, 34.9), (1987.05, 43.4), (1987.33, 33.8),
    (1987.52, 31.2), (1987.68, 32.8), (1988.24, 24.3),
    (1988.70, 38.6), (1988.90, 35.9), (1989.06, 30.1), (1989.26, 32.2), (1989.45, 28), (1989.67, 32.8), (1989.89, 30.1),
    (1990.08, 28), (1990.36, 31.2), (1990.50, 25.9), (1990.72, 17.4), (1990.91, 22.7), (1991.10, 34.9), (1991.33, 24.8),
    (1991.55, 28), (1991.82, 29.1), (1992.02, 20.8), (1992.21, 25.9), (1992.43, 31.2), (1992.65, 26.9), (1992.84, 32.2),
    (1993.12, 34.4), (1993.31, 20.6), (1993.53, 25.9), (1993.75, 30.1), (1993.95, 22.7), (1994.22, 31.2), (1994.36, 16.3),
    (1994.58, 23.8), (1994.86, 25.3), (1995.05, 20.6), (1995.33, 24.8), (1995.52, 21.6), (1995.79, 20.6),
    (1996.24, 25.9), (1996.57, 31.7), (1996.70, 26.9), (1997.12, 30.1), (1997.34, 21.6), (1997.45, 15.3), (1997.67, 26.9),
    (1998.17, 24.8), (1998.28, 11.6), (1998.44, 20.6), (1998.64, 16.3), (1998.91, 25.9), (1999.19, 20.6), (1999.46, 23.8),
    (1999.74, 24.8), (1999.93, 20.6), (2000.15, 12.1), (2000.37, 17.4), (2000.65, 16.3), (2000.93, 14.2), (2001.12, 11),
    (2001.31, 20.6), (2001.53, 23.8), (2001.81, 16.3), (2002.03, 24.8), (2002.22, 13.1), (2002.50, 10), (2002.69, 8.9),
    (2002.86, 16.3),
    (2003.33, 16.3), (2003.52, 19.5), (2003.74, 21.6), (2003.96, 16.3), (2004.15, 13.1), (2004.35, 18.5), (2004.57, 7.8),
    (2004.79, 4.7), (2004.98, 16.3),
    (2005.45, 7.8), (2005.67, 12.1), (2005.89, 18.5), (2006.17, 14.2), (2006.36, 20.6), (2006.55, 16.3), (2006.77, 13.1),
    (2006.99, 22.7), (2007.19, 23.8), (2007.38, 14.2), (2007.60, 10), (2007.82, 16.3), (2008.02, 12.1), (2008.21, 18.5),
    (2008.43, 20.6), (2008.65, 15.3), (2008.84, 21.6), (2009.04, 12.1), (2009.26, 19.5), (2009.48, 23.8), (2009.67, 16.3),
    (2009.86, 25.9), (2010.08, 20.6), (2010.30, 14.2), (2010.50, 24.8), (2010.77, 31.2), (2010.97, 29.1), (2011.13, 32.2),
    (2011.24, 20.6), (2011.46, -1.7), (2011.68, 16.3), (2011.88, 23.8), (2012.07, 12.1), (2012.29, 20.6), (2012.51, 16.3),
    (2012.79, 22.7), (2012.98, 14.2), (2013.17, 19.5), (2013.39, 10), (2013.61, 16.3), (2013.81, 12.1), (2014.00, 20.6),
    (2014.22, 7.8), (2014.44, 16.3), (2014.64, 22.7), (2014.83, 13.1), (2015.05, 18.5), (2015.27, 10), (2015.46, 16.3),
    (2015.65, 21.6), (2015.87, 12.1), (2016.00, 14), (2016.09, 18.5), (2016.29, 14.2), (2016.49, 20.6), (2016.60, 17.5),
    (2016.65, 29.6), (2016.84, 11), (2017.04, 16.3), (2017.10, 12.5), (2017.20, 7.8), (2017.40, 20.6), (2017.50, 15),
    (2017.59, 12.1), (2017.76, 16.3), (2017.95, 23.8), (2018.00, 11), (2018.14, 8.9), (2018.31, 18.5), (2018.40, 20),
    (2018.50, 13.1), (2018.64, 25.9), (2018.77, 15.3), (2018.90, 17), (2018.91, 10), (2019.05, 20.6), (2019.20, 22),
    (2019.24, 16.3), (2019.41, 12.1), (2019.50, 9.5), (2019.60, 19.5), (2019.74, 7.8), (2019.90, 18.5), (2019.96, 15.3),
    (2020.15, 11), (2020.29, 5.7), (2020.40, 8.5), (2020.45, 13.1), (2020.62, 3.6), (2020.70, 13.5), (2020.79, 10),
    (2020.98, 15.3), (2021.10, 11.5), (2021.17, 6.8), (2021.34, 1.5), (2021.50, 16.5), (2021.53, 12.1), (2021.67, 20.6),
    (2021.81, 24.8), (2021.90, 18), (2022.00, 26.9), (2022.17, 16.3), (2022.20, 24), (2022.36, 20.6), (2022.55, 13.1),
    (2022.65, 17), (2022.72, 22.7), (2022.83, 11), (2022.99, 18.5),
    (2013.30, 15.5), (2013.70, 18), (2014.10, 14), (2014.55, 18.5), (2014.95, 14.5), (2015.35, 19), (2015.75, 14),
    (2016.20, 16.5), (2016.40, 12.5), (2016.75, 14.5), (2017.15, 17.5), (2017.35, 13.5), (2017.65, 9.5), (2017.85, 14.5),
    (2018.10, 17), (2018.25, 12), (2018.55, 16.5), (2018.70, 21), (2018.95, 13.5), (2019.10, 18), (2019.30, 14.5),
    (2019.55, 16), (2019.85, 12.5), (2020.05, 20), (2020.20, 13), (2020.50, 10.5), (2020.85, 7.5), (2021.05, 12.5),
    (2021.25, 9.5), (2021.45, 14.5), (2021.60, 10), (2021.75, 17.5), (2022.05, 22), (2022.30, 18), (2022.45, 23),
    (2022.60, 15), (2022.90, 21),
]

line6 = [
    (1984.57, 32.3), (1984.90, 34.6), GAP,
    (1986.30, 32.9), (1986.58, 26), (1986.86, 30.4), GAP,
    (1988.70, 30), (1989.06, 35.7), (1989.39, 26), (1989.73, 22.6), (1990.08, 26.6), (1990.36, 26), (1990.86, 19.1), GAP,
    (1991.33, 17.4), (1991.66, 22), (1992.02, 22.8), (1992.29, 20.8), (1992.57, 22.6), (1992.84, 19.7), (1993.20, 22.6),
    (1993.48, 12.3), (1993.75, 20.3), (1994.03, 14.5), (1994.30, 26.6), (1994.58, 10), (1994.86, 20.8), (1995.19, 23.1),
    (1995.52, 23.7), (1995.88, 24.9), GAP,
    (1996.37, 22.6), (1996.79, 19.4), GAP,
    (1997.34, 21.8), (1997.62, 19.2), GAP,
    (1998.36, 20.3), (1998.72, 23.1), (1999.11, 28.9), (1999.46, 22.6), (1999.74, 24.9), (2000.02, 23.9), (2000.29, 25.1), (2000.57, 23.5), GAP,
    (2001.12, 22.6), (2001.48, 23.7), (2001.81, 23.7), (2002.08, 26), (2002.36, 22.6), (2002.69, 20.3), (2002.86, 20.8), GAP,
    (2003.41, 26), (2003.79, 20), GAP,
    (2004.35, 30.4), (2004.62, 19.7), (2004.90, 15.7), (2005.06, 18.1), GAP,
    (2006.36, 26), (2006.64, 20.3), (2007.05, 20.3), (2007.33, 23.1), (2007.60, 19.7), GAP,
    (2008.10, 26.6), (2008.37, 26.6), GAP,
    (2008.84, 16.8), (2009.12, 18), (2009.48, 26), (2009.75, 23.7), GAP,
    (2010.30, 6.7), (2010.58, 11.8), (2011.05, 19.8), (2011.55, 8.4), (2012.10, 13.5), (2012.37, 19.2), GAP,
    (2013.14, 13.5), (2013.27, 13), (2013.62, 14.7), (2013.90, 11.8), (2014.17, 14.1), (2014.59, 8.1), (2014.93, 15.8),
    (2015.28, 12.4), (2015.55, 13.9), (2015.97, 14.1), (2016.38, 14.3), (2016.80, 15.8), (2017.21, 11.8), (2017.56, 5.5),
    (2017.90, 9.5), (2018.32, 11.2), (2018.73, 14.1), (2019.07, 10.7), (2019.35, 12.4), (2019.63, 8.9), (2020.04, 7.2),
    (2020.46, 3.8), (2020.80, 4.4), (2021.22, 4.9), (2021.49, 6.7), (2021.84, 7.2), (2022.11, 16.4), (2022.46, 11.8),
    (2022.73, 9.5), (2022.99, 9.8),
]

pts6 = [
    (1984.48, 36.3), (1984.57, 31.7), (1984.76, 39.5), (1984.84, 30), (1985.31, 32.3), (1986.08, 34.2), (1986.50, 23.1),
    (1986.69, 30.6), (1987.46, 28.9), (1987.52, 26),
    (1988.29, 24.3), (1988.70, 27.7), (1988.90, 32), (1989.06, 37.5), (1989.26, 22.6), (1989.45, 25.4), (1989.67, 15.7),
    (1989.89, 23.7), (1990.08, 28.9), (1990.28, 26), (1990.44, 22.6), (1990.64, 18), (1990.83, 20.8), (1991.27, 16.8),
    (1991.46, 20.3), (1991.66, 23.7), (1991.93, 24.9), (1992.15, 28.3), (1992.37, 22.6), (1992.57, 19.1), (1992.76, 25.4),
    (1992.98, 18), (1993.20, 15.7), (1993.39, 10), (1993.59, 22.6), (1993.81, 20.3), (1993.95, 13.4), (1994.22, 26),
    (1994.36, 9.4), (1994.58, 18), (1994.77, 22.6), (1994.97, 26), (1995.19, 20.3), (1995.41, 24.9), (1995.68, 27.1),
    (1996.57, 22), (1996.70, 15.1), (1996.98, 23.7), (1997.12, 18.6), (1997.39, 16.3), (1997.62, 22.6), (1997.81, 18),
    (1998.17, 26.6), (1998.28, 20.3), (1998.50, 23.7), (1998.77, 29.4), (1998.99, 24.9), (1999.19, 21.4), (1999.38, 27.1),
    (1999.55, 19.1), (1999.74, 23.7), (1999.93, 20.3), (2000.10, 29.4), (2000.29, 22.6), (2000.48, 24.9), (2000.70, 19.7),
    (2000.93, 24.9), (2001.12, 21.4), (2001.31, 26), (2001.48, 20.3), (2001.67, 24.3), (2001.86, 27.1), (2002.08, 21.4),
    (2002.30, 23.7), (2002.50, 19.1), (2002.69, 24.9),
    (2003.05, 26), (2003.24, 21.4), (2003.46, 18), (2003.68, 22.6), (2003.88, 30), (2004.02, 26), (2004.24, 32.9),
    (2004.43, 23.7), (2004.71, 21.4), (2004.98, 19.1), (2005.53, 13.4),
    (2006.22, 28.3), (2006.44, 22.6), (2006.64, 19.1), (2006.77, 26), (2006.99, 23.7), (2007.19, 26.6), (2007.38, 20.3),
    (2007.60, 22.6), (2008.02, 30), (2008.21, 28.3), (2008.43, 29.4), (2008.71, 21.4), (2008.92, 24.9), (2009.12, 29.4),
    (2009.31, 32.9), (2009.53, 28.3), (2009.67, 24.9), (2009.86, 26.6),
    (2010.22, 8.8), (2010.36, 13.4), (2010.58, 16.8), (2010.77, 11.1), (2010.97, 14.5), (2011.13, 20.3), (2011.33, 12.3),
    (2011.52, 10), (2011.74, 15.7), (2011.96, 11.1), (2012.15, 19.1), (2012.29, 21.4),
    (2012.98, 15.7), (2013.17, 12.3), (2013.39, 16.8), (2013.61, 10), (2013.81, 15.1), (2014.00, 19.1), (2014.22, 12.3),
    (2014.44, 8.8), (2014.64, 15.7), (2014.83, 19.1), (2015.05, 13.4), (2015.27, 16.8), (2015.46, 12.3), (2015.65, 5.4),
    (2015.87, 15.1), (2016.09, 18), (2016.29, 12.3), (2016.49, 14.5), (2016.65, 26.6), (2016.84, 16.8), (2016.90, 13),
    (2017.04, 10), (2017.20, 5.4), (2017.30, 8.5), (2017.40, 13.4), (2017.53, 3.1), (2017.67, 10), (2017.70, 7.5),
    (2017.81, 16.8), (2017.95, 21.4), (2018.00, 15), (2018.09, 6.5), (2018.22, 13.4), (2018.36, 3.1), (2018.40, 9),
    (2018.50, 19.1), (2018.64, 10), (2018.70, 16.5), (2018.77, 6.5), (2018.91, 15.7), (2019.00, 8), (2019.05, 11.1),
    (2019.19, 5.4), (2019.33, -2), (2019.41, 13.4), (2019.50, 14.5), (2019.60, 8.8), (2019.74, 16.8), (2019.80, 10),
    (2019.96, 4.2), (2020.05, 10.5), (2020.15, 7.7), (2020.29, 1.9), (2020.40, 5.5), (2020.51, 6.5), (2020.60, 9.5),
    (2020.70, 3.1), (2020.90, 8.8), (2021.00, 6.5), (2021.06, 1.9), (2021.26, 6.5), (2021.40, 3.5), (2021.45, 10),
    (2021.62, 4.2), (2021.70, 9), (2021.81, 12.3), (2021.95, 22.6), (2022.00, 13.5), (2022.08, 18), (2022.22, 8.8),
    (2022.30, 10.5), (2022.36, 14.5), (2022.50, 5.4), (2022.55, 17), (2022.64, 12.3), (2022.77, 22.6), (2022.83, -4.9),
    (2022.91, 7.7), (2022.95, 10.5), (2022.99, 15.7),
    (2013.30, 14.5), (2013.70, 12.5), (2014.10, 16), (2014.35, 13), (2014.75, 11), (2015.15, 14.5), (2015.55, 10),
    (2015.75, 16.5), (2016.20, 16), (2016.60, 12.5), (2016.95, 18), (2017.10, 15), (2017.45, 11), (2017.75, 13),
    (2018.15, 10.5), (2018.30, 17), (2018.55, 13.5), (2018.85, 11.5), (2019.10, 15), (2019.25, 9), (2019.55, 11.5),
    (2019.70, 6.5), (2019.90, 12), (2020.20, 4.5), (2020.35, 8.5), (2020.55, 2), (2020.75, 6), (2020.95, 4),
    (2021.15, 8), (2021.30, 5), (2021.55, 7.5), (2021.75, 5.5), (2021.90, 17.5), (2022.05, 10), (2022.25, 15),
    (2022.40, 8), (2022.60, 10.5), (2022.70, 15.5), (2022.85, 12.5),
]

lines = [line1, line2, line3, line4, line5, line6]
points = [pts1, pts2, pts3, pts4, pts5, pts6]

# figure layout: (bottom, height) of each strip, y range, marker rows, side text rows
strips = [(0.8607, 0.1103), (0.6959, 0.1096), (0.5319, 0.1096),
          (0.3672, 0.1103), (0.2025, 0.1096), (0.0363, 0.1118)]
ylims = [(0, 43.9), (-3.9, 40.1), (-3.9, 40.1), (-3.9, 40.1), (-4.0, 43.9), (-10.4, 42.6)]
mark_rows = [(0.864, 0.952, 0.825), (0.953, 0.875, 0.743), (0.953, 0.875, 0.743),
             (0.953, 0.875, 0.743), (0.876, 0.815, 0.684), (0.84, 0.929, 0.818)]
side_rows = [(0.802, 0.565, 0.322), (0.911, 0.665, 0.427), (0.933, 0.695, 0.457),
             (0.822, 0.586, 0.349), (0.612, 0.367, 0.129), (0.671, 0.431, 0.197)]

GREEN = '#1f8a3c'
RED = '#d9232a'
num_font = dict(family=['Liberation Sans Narrow', 'Liberation Sans'], weight='bold', size=23, color='black')
side_font = dict(family=['Open Sans', 'DejaVu Sans'], size=19)

fig = plt.figure(figsize=(17.63, 13.78), dpi=100)

for i in range(6):
    ax = fig.add_axes([0.0091, strips[i][0], 0.9143, strips[i][1]])
    ax.set_xlim(1983.43, 2023.0)
    ax.set_ylim(*ylims[i])
    ax.set_axisbelow(True)
    ax.set_yticks([0, 10, 20, 30, 40])
    ax.grid(axis='y', color='#c9c9c9', lw=1.5)
    for t in tick_years[:-1]:
        ax.axvline(t, color='#d2d2d2', lw=0.9, zorder=0)

    for s in ('top', 'left', 'right'):
        ax.spines[s].set_visible(False)
    ax.spines['bottom'].set_linewidth(2.6)
    ax.spines['bottom'].set_color('black')
    ax.tick_params(axis='y', length=0, labelleft=False)
    if i == 5:
        ax.set_xticks(tick_years)
        ax.set_xticklabels(tick_labels, family=['Liberation Sans', 'DejaVu Sans'], fontsize=23)
    else:
        ax.set_xticks(tick_years[:-1])
        ax.set_xticklabels([])
    ax.tick_params(axis='x', direction='out', length=7, width=1.6, color='black', pad=3)

    pts = np.array(points[i])
    ax.plot(pts[:, 0], pts[:, 1], 'o', ms=14, mfc='none', mec='#a6a6a6', mew=1.4, zorder=2)
    ln = np.array(lines[i])
    ax.plot(ln[:, 0], ln[:, 1], color='#4767b1', lw=2.4, zorder=3)

    xt = ax.get_xaxis_transform()
    ys, yr, yh = mark_rows[i]
    ax.plot(red_years, [yr] * len(red_years), 'o', ms=13, mfc='#e5211c', mec='black', mew=1.0,
            transform=xt, clip_on=False, zorder=5)
    ax.plot(hex_years, [yh] * len(hex_years), 'h', ms=14, mfc='#2455a6', mec='black', mew=1.0,
            transform=xt, clip_on=False, zorder=5)
    ax.plot(star_years, [ys] * len(star_years), '*', ms=13.5, color='black',
            transform=xt, clip_on=False, zorder=6)

    if i in (0, 5):
        ry, hy, qy = (1.13, 1.012, 0.80) if i == 0 else (1.085, 0.965, 0.68)
        for t, s in zip(red_years, red_names):
            ax.text(t, ry, s, transform=xt, ha='center', va='center', **num_font)
        for t, s in zip(hex_years, hex_names):
            if s != '4,5':
                ax.text(t, hy, s, transform=xt, ha='center', va='center', **num_font)
            elif i == 0:
                ax.annotate(s, (t, qy), xycoords=xt, xytext=(-8, 0), textcoords='offset points',
                            ha='right', va='center', annotation_clip=False, **num_font)
            else:
                ax.text(t, qy, s, transform=xt, ha='center', va='center', **num_font)

    top_col = GREEN if side_top[i] == 'Avancée' else RED
    r1, r2, r3 = side_rows[i]
    ax.text(1.002, r1, side_top[i], transform=ax.transAxes, ha='left', va='center', color=top_col, **side_font)
    ax.text(1.002, r2, side_mid[i], transform=ax.transAxes, ha='left', va='center', color=top_col, **side_font)
    ax.text(1.002, r3, side_bot[i], transform=ax.transAxes, ha='left', va='center', color=RED, **side_font)

    if i == 5:
        ax.text(1997.70, 16.3, '1', ha='center', va='center', zorder=6, **num_font)

fig.savefig('out.png', dpi=100)
